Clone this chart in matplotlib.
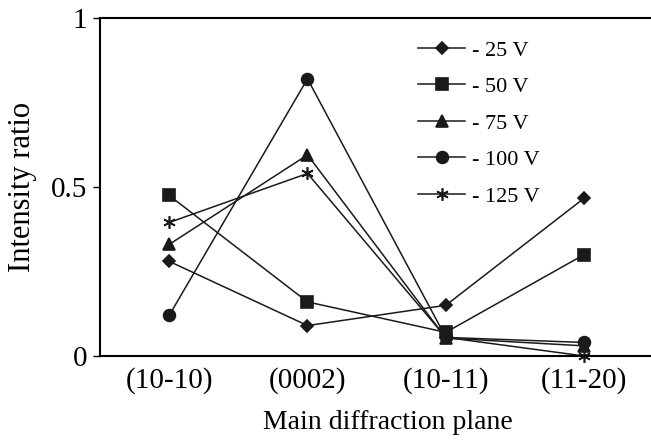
import numpy as np
import matplotlib.pyplot as plt

plt.rcParams['font.family'] = ['Liberation Serif', 'DejaVu Serif']

planes = ["(10-10)", "(0002)", "(10-11)", "(11-20)"]
labels = ["- 25 V", "- 50 V", "- 75 V", "- 100 V", "- 125 V"]
v25 = [0.28, 0.09, 0.15, 0.467]
v50 = [0.475, 0.16, 0.07, 0.30]
v75 = [0.33, 0.595, 0.053, 0.03]
v100 = [0.12, 0.82, 0.055, 0.04]
v125 = [0.395, 0.54, 0.055, 0.0]

series = [v25, v50, v75, v100, v125]
markers = ["D", "s", "^", "o", (6, 2, 0)]
msizes = [6.5, 8, 8.5, 8.5, 9]

fig = plt.figure(figsize=(6.51, 4.43), dpi=100)
ax = fig.add_axes([0.1536, 0.1964, 0.85, 0.763])
x = np.arange(len(planes))
for vals, m, ms, lab in zip(series, markers, msizes, labels):
    ax.plot(x, vals, marker=m, markersize=ms, color="#1a1a1a", linewidth=1.1,
            markeredgewidth=1.2, label=lab, clip_on=False)

ax.set_xlim(-0.5, 3.5)
ax.set_ylim(0, 1)
ax.set_xticks(x)
ax.set_xticklabels(planes, fontsize=21)
ax.set_yticks([0, 0.5, 1])
ax.set_yticklabels(["0", "0.5", "1"], fontsize=21)
ax.tick_params(axis="x", length=0, pad=8)
ax.tick_params(axis="y", length=5, width=1, direction="out", pad=4)
ax.spines["right"].set_visible(False)
for s in ["left", "top", "bottom"]:
    ax.spines[s].set_linewidth(1.5)
ax.set_xlabel("Main diffraction plane", fontsize=20, labelpad=12)
ax.xaxis.set_label_coords(0.52, -0.16)
ax.set_ylabel("Intensity ratio", fontsize=22, labelpad=10)

ax.legend(loc="upper left", bbox_to_anchor=(0.575, 0.935), frameon=False,
          fontsize=16, handlelength=2.1, handletextpad=0.3, labelspacing=0.72,
          borderpad=0, borderaxespad=0)

fig.savefig("out.png", dpi=100)
